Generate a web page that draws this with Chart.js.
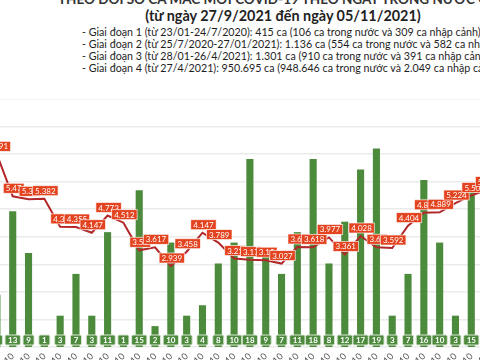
<!DOCTYPE html>
<html>
<head>
<meta charset="utf-8">
<script src="https://cdn.jsdelivr.net/npm/chart.js@4/dist/chart.umd.min.js"></script>
<style>
  html, body { margin:0; padding:0; width:480px; height:360px; overflow:hidden; background:#fff; }
  #wrap { position:relative; width:480px; height:360px; overflow:hidden; }
  #c { position:absolute; left:-11px; top:99px; }
  .t { position:absolute; white-space:nowrap; color:#1e1e1e; font-family:Lato, "Open Sans", sans-serif; }
  #t0 { left:58px; top:-9px; font-size:13.5px; font-weight:700; color:#333; }
  #t1 { left:0; width:566px; text-align:center; top:7px; font-size:14.4px; font-weight:700; color:#222; }
  .g { left:82px; font-size:10.7px; }
</style>
</head>
<body>
<div id="wrap">
  <div class="t" id="t0">THEO DÕI SỐ CA MẮC MỚI COVID-19 THEO NGÀY TRONG NƯỚC Ở VIỆT NAM</div>
  <div class="t" id="t1">(từ ngày 27/9/2021 đến ngày 05/11/2021)</div>
  <div class="t g" style="top:25px">- Giai đoạn 1 (từ 23/01-24/7/2020): 415 ca (106 ca trong nước và 309 ca nhập cảnh)</div>
  <div class="t g" style="top:37px">- Giai đoạn 2 (từ 25/7/2020-27/01/2021): 1.136 ca (554 ca trong nước và 582 ca nhập cảnh)</div>
  <div class="t g" style="top:49px">- Giai đoạn 3 (từ 28/01-26/4/2021): 1.301 ca (910 ca trong nước và 391 ca nhập cảnh)</div>
  <div class="t g" style="top:61px">- Giai đoạn 4 (từ 27/4/2021): 950.695 ca (948.646 ca trong nước và 2.049 ca nhập cảnh)</div>
  <canvas id="c" width="506" height="268"></canvas>
</div>
<script>
// Categories (dates)
const dates = ['30/9','1/10','2/10','3/10','4/10','5/10','6/10','7/10','8/10','9/10','10/10','11/10','12/10',
  '13/10','14/10','15/10','16/10','17/10','18/10','19/10','20/10','21/10','22/10','23/10','24/10','25/10',
  '26/10','27/10','28/10','29/10','30/10','31/10'];
// Bar series (small daily counts)
const barValues = [5,13,9,1,3,7,3,11,1,15,2,10,3,4,8,10,18,9,7,11,18,8,12,17,19,3,7,16,10,3,15,null];
// Line series (thousand cases)
const lineValues = [6.991,5.47,5.36,5.382,4.36,4.355,4.147,4.773,4.512,3.51,3.617,2.939,3.458,4.147,3.789,3.21,
  3.17,3.15,3.027,3.63,3.618,3.977,3.361,4.028,3.62,3.592,4.404,4.87,4.889,5.224,5.5,5.716];
// Line data label texts
const lineLabels = ['6.991','5.47','5.36','5.382','4.36','4.355','4.147','4.773','4.512','3.51','3.617','2.939','3.458',
  '4.147','3.789','3.21','3.17','3.15','3.027','3.63','3.618','3.977','3.361','4.028','3.62','3.592','4.404','4.87',
  '4.889','5.224','5.50','5.716'];

function rrect(ctx, x, y, w, h, r) {
  ctx.beginPath();
  ctx.moveTo(x + r, y);
  ctx.lineTo(x + w - r, y); ctx.quadraticCurveTo(x + w, y, x + w, y + r);
  ctx.lineTo(x + w, y + h - r); ctx.quadraticCurveTo(x + w, y + h, x + w - r, y + h);
  ctx.lineTo(x + r, y + h); ctx.quadraticCurveTo(x, y + h, x, y + h - r);
  ctx.lineTo(x, y + r); ctx.quadraticCurveTo(x, y, x + r, y);
  ctx.closePath();
}

const boxLabels = {
  id: 'boxLabels',
  afterDatasetsDraw(chart) {
    const ctx = chart.ctx;
    ctx.save();
    ctx.textAlign = 'center';
    ctx.textBaseline = 'middle';
    // bar labels at bar base
    ctx.font = 'bold 8px Lato, sans-serif';
    chart.getDatasetMeta(1).data.forEach((el, i) => {
      const v = barValues[i];
      if (v == null) return;
      const txt = String(v);
      const w = Math.max(ctx.measureText(txt).width + 6, 11);
      const h = 10;
      const yc = el.base - 7;
      rrect(ctx, el.x - w / 2, yc - h / 2, w, h, 1.5);
      ctx.fillStyle = '#4d8a3d'; ctx.fill();
      ctx.strokeStyle = '#d6e6d0'; ctx.lineWidth = 1; ctx.stroke();
      ctx.fillStyle = '#ffffff';
      ctx.fillText(txt, el.x, yc + 0.5);
    });
    // line labels above points
    ctx.font = '8px Lato, sans-serif';
    chart.getDatasetMeta(0).data.forEach((el, i) => {
      const txt = lineLabels[i];
      const w = ctx.measureText(txt).width + 5;
      const h = 10;
      const xc = el.x + 1, yc = el.y - 8;
      ctx.fillStyle = '#e4431f';
      ctx.fillRect(xc - w / 2, yc - h / 2, w, h);
      ctx.strokeStyle = 'rgba(255,255,255,0.8)'; ctx.lineWidth = 0.8;
      ctx.strokeRect(xc - w / 2, yc - h / 2, w, h);
      ctx.fillStyle = '#ffffff';
      ctx.fillText(txt, xc, yc + 0.5);
    });
    ctx.restore();
  }
};

new Chart(document.getElementById('c'), {
  data: {
    labels: dates,
    datasets: [
      { type: 'line', data: lineValues, yAxisID: 'yLine', borderColor: '#b1272a', borderWidth: 2,
        pointRadius: 0, tension: 0, order: 0, clip: false },
      { type: 'bar', data: barValues, yAxisID: 'yBar', backgroundColor: '#4c8b3b',
        barPercentage: 0.9, categoryPercentage: 0.5, order: 1 }
    ]
  },
  options: {
    responsive: false,
    animation: false,
    devicePixelRatio: 1,
    layout: { padding: 0 },
    plugins: { legend: { display: false }, tooltip: { enabled: false }, title: { display: false } },
    scales: {
      x: {
        offset: true,
        grid: { display: false, drawTicks: false },
        border: { display: false },
        ticks: { autoSkip: false, minRotation: 45, maxRotation: 45, padding: 4,
          font: { size: 9, family: 'Lato, sans-serif' }, color: '#555' },
        afterFit(s) { s.height = 20; s.paddingLeft = 0; s.paddingRight = 0; }
      },
      yLine: {
        position: 'left', min: 0, max: 9,
        ticks: { display: false, stepSize: 1 },
        grid: { color: '#ebebeb', lineWidth: 1.6, drawTicks: false },
        border: { display: false },
        afterFit(s) { s.width = 0; s.paddingTop = 0; s.paddingBottom = 0; }
      },
      yBar: {
        position: 'right', min: 0, max: 23.75, display: false
      }
    }
  },
  plugins: [boxLabels]
});
</script>
</body>
</html>
